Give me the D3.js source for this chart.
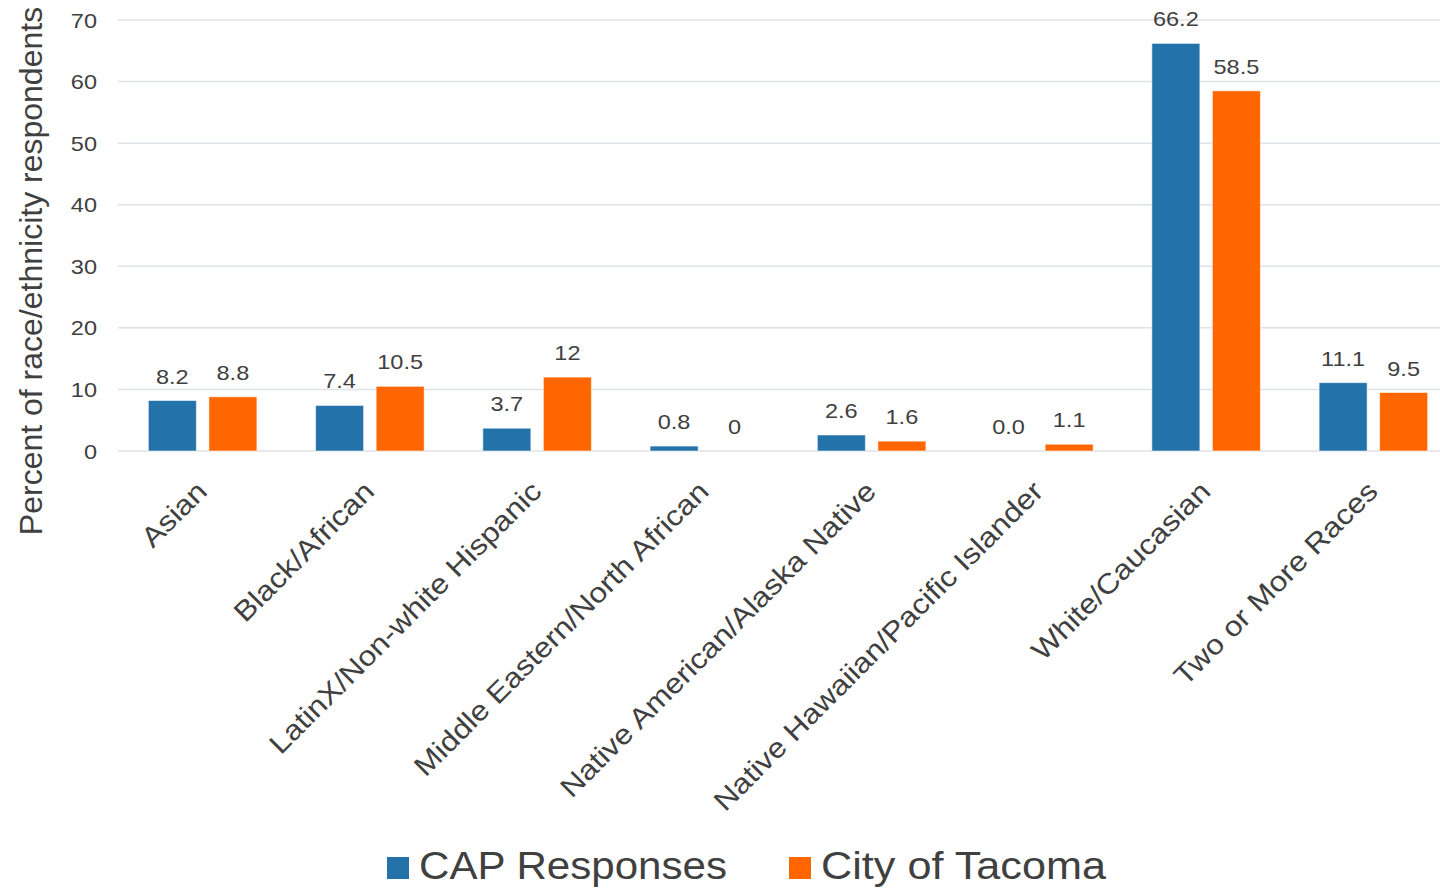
<!DOCTYPE html>
<html>
  <head>
    <meta charset="UTF-8">
    <title></title>
    <style>
    body { margin: 0; background: #fff; }
    svg { display: block; font-family: "Liberation Sans", Arial, sans-serif; }
    </style>
  </head>
  <body>
    <svg id="chart" width="1440" height="889"></svg>
  </body>
  <script src="https://cdn.jsdelivr.net/npm/d3@7"></script>
  <script>
  var categories = ["Asian", "Black/African", "LatinX/Non-white Hispanic", "Middle Eastern/North African",
    "Native American/Alaska Native", "Native Hawaiian/Pacific Islander", "White/Caucasian", "Two or More Races"];
  var series = ["CAP Responses", "City of Tacoma"];
  var capValues = [8.2, 7.4, 3.7, 0.8, 2.6, 0.0, 66.2, 11.1];
  var tacomaValues = [8.8, 10.5, 12, 0, 1.6, 1.1, 58.5, 9.5];
  var capLabels = ["8.2", "7.4", "3.7", "0.8", "2.6", "0.0", "66.2", "11.1"];
  var tacomaLabels = ["8.8", "10.5", "12", "0", "1.6", "1.1", "58.5", "9.5"];
  var yTicks = [0, 10, 20, 30, 40, 50, 60, 70];

  var colors = { "CAP Responses": "#2372aa", "City of Tacoma": "#ff6600" };
  var textColor = "#404040";

  var svg = d3.select("svg#chart");

  // the original text renders a bit wider than Liberation Sans
  function stretch(sel, k) {
    sel.each(function() {
      var w = this.getComputedTextLength();
      d3.select(this)
        .attr("textLength", w * k)
        .attr("lengthAdjust", "spacingAndGlyphs");
    });
  }

  var y = d3.scaleLinear().domain([0, 70]).range([451, 20]);
  var x0 = d3.scaleBand().domain(categories).range([119, 1457])
    .paddingInner(0.351).paddingOuter(0.1755);
  var x1 = d3.scaleBand().domain(series).range([0, x0.bandwidth()]).paddingInner(0.207);

  // gridlines
  svg.append("g")
    .selectAll("line")
    .data(yTicks)
    .enter()
    .append("line")
    .attr("x1", 118)
    .attr("x2", 1440)
    .attr("y1", function(d) { return y(d); })
    .attr("y2", function(d) { return y(d); })
    .style("stroke", "#dfe2e6")
    .style("stroke-width", 1.5);

  // y tick labels
  svg.append("g")
    .selectAll("text")
    .data(yTicks)
    .enter()
    .append("text")
    .attr("x", 97)
    .attr("y", function(d) { return y(d); })
    .attr("dy", "0.36em")
    .attr("text-anchor", "end")
    .style("font-size", "21px")
    .style("fill", textColor)
    .text(function(d) { return d; })
    .call(stretch, 1.12);

  // y title
  svg.append("text")
    .attr("transform", "translate(42,271) rotate(-90)")
    .attr("text-anchor", "middle")
    .style("font-size", "32px")
    .style("fill", textColor)
    .text("Percent of race/ethnicity respondents");

  var rows = categories.map(function(c, i) {
    return [
      { cat: c, key: series[0], value: capValues[i], label: capLabels[i] },
      { cat: c, key: series[1], value: tacomaValues[i], label: tacomaLabels[i] }
    ];
  });

  var groups = svg.append("g")
    .selectAll("g")
    .data(rows)
    .enter()
    .append("g")
    .attr("transform", function(d) { return "translate(" + x0(d[0].cat) + ",0)"; });

  groups.selectAll("rect")
    .data(function(d) { return d; })
    .enter()
    .append("rect")
    .attr("x", function(d) { return x1(d.key); })
    .attr("width", x1.bandwidth())
    .attr("y", function(d) { return y(d.value); })
    .attr("height", function(d) { return y(0) - y(d.value); })
    .style("fill", function(d) { return colors[d.key]; })
    .style("stroke", "rgba(255,255,255,0.55)")
    .style("stroke-width", 1);

  groups.selectAll("text")
    .data(function(d) { return d; })
    .enter()
    .append("text")
    .attr("x", function(d) { return x1(d.key) + x1.bandwidth() / 2; })
    .attr("y", function(d) { return y(d.value) - 17; })
    .attr("text-anchor", "middle")
    .style("font-size", "21px")
    .style("fill", textColor)
    .text(function(d) { return d.label; })
    .call(stretch, 1.12);

  // category labels
  svg.append("g")
    .selectAll("text")
    .data(categories)
    .enter()
    .append("text")
    .attr("transform", function(d) {
      return "translate(" + (x0(d) + x0.bandwidth() / 2 + 6) + ",493) rotate(-45)";
    })
    .attr("text-anchor", "end")
    .style("font-size", "28px")
    .style("fill", textColor)
    .text(function(d) { return d; })
    .call(stretch, 1.13);

  // legend
  var legendPos = [{ key: series[0], x: 387, len: 308 }, { key: series[1], x: 789, len: 285 }];
  var legend = svg.append("g")
    .selectAll("g")
    .data(legendPos)
    .enter()
    .append("g")
    .attr("transform", function(d) { return "translate(" + d.x + ",0)"; });

  legend.append("rect")
    .attr("x", 0)
    .attr("y", 857)
    .attr("width", 22)
    .attr("height", 22)
    .style("fill", function(d) { return colors[d.key]; });

  legend.append("text")
    .attr("x", 32)
    .attr("y", 879)
    .attr("textLength", function(d) { return d.len; })
    .attr("lengthAdjust", "spacingAndGlyphs")
    .style("font-size", "38px")
    .style("fill", textColor)
    .text(function(d) { return d.key; });
  </script>
</html>
